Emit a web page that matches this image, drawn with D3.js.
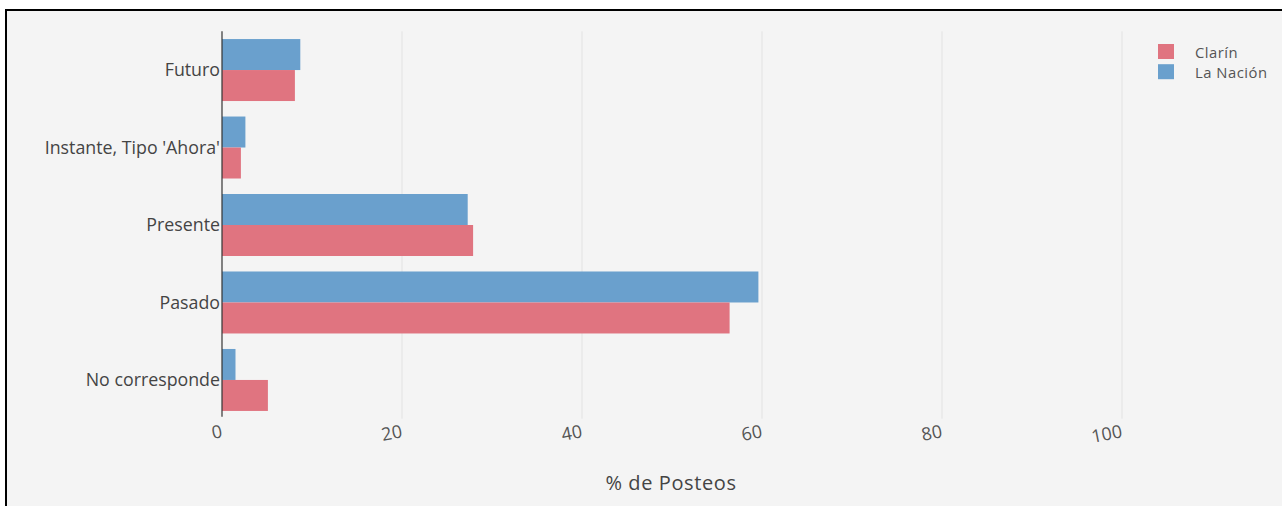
<!DOCTYPE html>
<html>
<head>
<meta charset="utf-8">
<script src="https://cdn.jsdelivr.net/npm/d3@7"></script>
<style>
  html, body { margin: 0; padding: 0; background: #ffffff; }
  svg { display: block; }
</style>
</head>
<body>
<svg id="chart" width="1282" height="506"></svg>
<script>
const categories = ["Futuro", "Instante, Tipo 'Ahora'", "Presente", "Pasado", "No corresponde"];
const seriesNames = ["La Nación", "Clarín"];
const clarinValues = [8.1, 2.1, 27.9, 56.4, 5.1];
const laNacionValues = [8.7, 2.6, 27.3, 59.6, 1.5];
const xTicks = [0, 20, 40, 60, 80, 100];
const legendLabels = ["Clarín", "La Nación"];
const xTitle = "% de Posteos";

const colors = { "Clarín": "#e07480", "La Nación": "#6aa0cd" };

const svg = d3.select("#chart");
const W = 1282, H = 506;

// panel with black frame (top & left visible)
svg.append("rect").attr("x", 0).attr("y", 0).attr("width", W).attr("height", H).attr("fill", "#ffffff");
svg.append("rect").attr("x", 7).attr("y", 10).attr("width", W).attr("height", H).attr("fill", "#f4f4f4");
svg.append("line").attr("x1", 6).attr("x2", 6).attr("y1", 9).attr("y2", H).attr("stroke", "#000").attr("stroke-width", 2);
svg.append("line").attr("x1", 5).attr("x2", W).attr("y1", 10).attr("y2", 10).attr("stroke", "#000").attr("stroke-width", 2);

const plot = { left: 222, right: 1122, top: 31.3, bottom: 418.7 };

const x = d3.scaleLinear().domain([0, 100]).range([plot.left, plot.right]);
const y = d3.scaleBand().domain(categories).range([plot.top, plot.bottom]).paddingInner(0.2).paddingOuter(0.1);
const ySub = d3.scaleBand().domain(seriesNames).range([0, y.bandwidth()]);

// gridlines
svg.append("g").selectAll("line").data(xTicks.filter(t => t !== 0)).join("line")
  .attr("x1", d => x(d)).attr("x2", d => x(d))
  .attr("y1", plot.top).attr("y2", plot.bottom)
  .attr("stroke", "#e2e2e2").attr("stroke-width", 1);

// bars
const rows = categories.map((c, i) => ({ cat: c, vals: [
  { s: "La Nación", v: laNacionValues[i] },
  { s: "Clarín", v: clarinValues[i] }
]}));

const g = svg.append("g").selectAll("g").data(rows).join("g")
  .attr("transform", d => `translate(0,${y(d.cat)})`);
g.selectAll("rect").data(d => d.vals).join("rect")
  .attr("x", x(0))
  .attr("y", d => ySub(d.s))
  .attr("width", d => x(d.v) - x(0))
  .attr("height", ySub.bandwidth())
  .attr("fill", d => colors[d.s]);

// zero line
svg.append("line").attr("x1", x(0)).attr("x2", x(0))
  .attr("y1", plot.top).attr("y2", plot.bottom - 2)
  .attr("stroke", "#333").attr("stroke-width", 1.2);

// y labels
const yAxis = d3.axisLeft(y).tickSize(0).tickPadding(2);
const ya = svg.append("g").attr("transform", `translate(${x(0)},0)`).call(yAxis);
ya.select(".domain").remove();
ya.selectAll("text").attr("font-family", "'Open Sans', sans-serif").attr("font-size", 17.8)
  .attr("fill", "#444").attr("dy", "0.35em");

// x tick labels (rotated)
const xAxis = d3.axisBottom(x).tickValues(xTicks).tickSize(0).tickFormat(d3.format("d"));
const xa = svg.append("g").attr("transform", `translate(0,0)`).call(xAxis);
xa.select(".domain").remove();
xa.selectAll(".tick").attr("transform", d => `translate(${x(d) + 1},437)`);
xa.selectAll(".tick text")
  .attr("x", 0).attr("y", 0).attr("dy", 0)
  .attr("text-anchor", "end")
  .attr("transform", "rotate(-11)")
  .attr("font-family", "'Open Sans', sans-serif").attr("font-size", 18)
  .attr("fill", "#555");

// x title
svg.append("text").attr("x", (plot.left + plot.right) / 2 - 1).attr("y", 490)
  .attr("text-anchor", "middle")
  .attr("font-family", "'Open Sans', sans-serif").attr("font-size", 20)
  .attr("letter-spacing", 0.6)
  .attr("fill", "#444").text(xTitle);

// legend
const lg = svg.append("g").selectAll("g").data(legendLabels).join("g")
  .attr("transform", (d, i) => `translate(1158,${44 + i * 20.2})`);
lg.append("rect").attr("width", 16).attr("height", 15).attr("fill", d => colors[d]);
lg.append("text").attr("x", 37).attr("y", 13.5)
  .attr("font-family", "'Open Sans', sans-serif").attr("font-size", 14.8)
  .attr("letter-spacing", 0.5)
  .attr("fill", "#555").text(d => d);
</script>
</body>
</html>
